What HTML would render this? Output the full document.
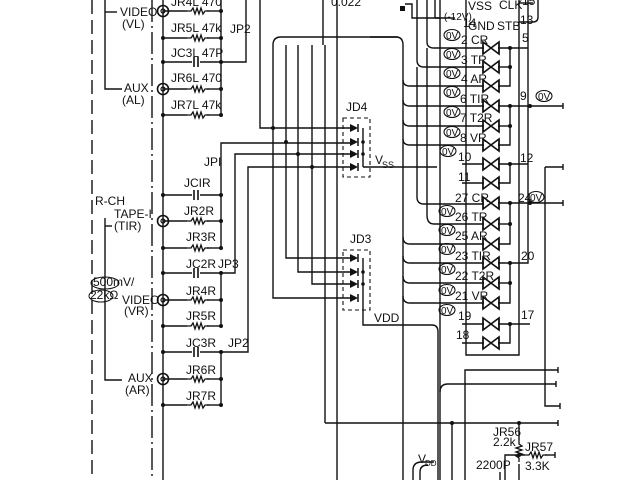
<!DOCTYPE html>
<html><head><meta charset="utf-8"><style>
html,body{margin:0;padding:0;background:#fff;}
svg{display:block;}
text{font-family:"Liberation Sans Narrow","Liberation Sans",sans-serif;font-size:12px;fill:#111;}
</style></head><body>
<svg width="640" height="480" viewBox="0 0 640 480" xmlns="http://www.w3.org/2000/svg">
<defs>
<path id="res" d="M0,0 h4 l2,-3 l2,6 l2,-6 l2,6 l2,-6 l2,6 l2,-3 h4" fill="none" stroke="#111" stroke-width="1.3"/>
<g id="sw"><path d="M-8,-6 L8,6 L8,-6 L-8,6 Z" fill="none" stroke="#111" stroke-width="1.6"/><line x1="-8" y1="-6" x2="-8" y2="6" stroke="#111" stroke-width="1.4"/><line x1="8" y1="-6" x2="8" y2="6" stroke="#111" stroke-width="1.4"/></g>
<g id="jack"><circle cx="0" cy="0" r="5.5" fill="none" stroke="#111" stroke-width="1.6"/><circle cx="0" cy="0" r="2" fill="none" stroke="#111" stroke-width="1.2"/></g>
<g id="cap"><line x1="-2" y1="-5" x2="-2" y2="5" stroke="#111" stroke-width="1.6"/><line x1="2" y1="-5" x2="2" y2="5" stroke="#111" stroke-width="1.6"/></g>
<g id="dio"><path d="M-5,-4 L-5,4 L3,0 Z" fill="#111"/><line x1="3" y1="-4" x2="3" y2="4" stroke="#111" stroke-width="1.5"/></g>
<g id="ov"><ellipse cx="0" cy="0" rx="8" ry="5.5" fill="none" stroke="#111" stroke-width="1.1"/><text x="-6" y="4" style="font-size:10px">0V</text></g>
</defs>
<g stroke="#111" stroke-width="1.4" fill="none">
<line x1="92" y1="0" x2="92" y2="480" stroke-dasharray="14,6"/>
<line x1="152" y1="0" x2="152" y2="480" stroke-dasharray="22,4,2,4"/>
<path d="M105,0 V89 H122"/><path d="M105,12 H117"/>
<path d="M105,218 V380 H122"/><path d="M105,226 H112"/>
<line x1="163" y1="0" x2="163" y2="480"/>
<line x1="221" y1="0" x2="221" y2="115"/>
<line x1="221" y1="195" x2="221" y2="248"/>
<line x1="221" y1="273" x2="221" y2="326"/>
<line x1="221" y1="352" x2="221" y2="405"/>
<path d="M163,11 H187"/><path d="M207,11 H221"/>
<path d="M163,38 H187"/><path d="M207,38 H221"/>
<path d="M163,62 H192"/><path d="M200,62 H246 V0"/>
<path d="M163,89 H187"/><path d="M207,89 H221"/>
<path d="M163,115 H187"/><path d="M207,115 H221"/>
<path d="M163,195 H192"/><path d="M200,195 H221 V143 H280"/>
<path d="M163,221 H187"/><path d="M207,221 H221"/>
<path d="M163,248 H187"/><path d="M207,248 H221"/>
<path d="M163,273 H192"/><path d="M200,273 H235 V154 H280"/>
<path d="M163,300 H187"/><path d="M207,300 H221"/>
<path d="M163,326 H187"/><path d="M207,326 H221"/>
<path d="M163,352 H192"/><path d="M200,352 H248 V167 H280"/>
<path d="M163,379 H187"/><path d="M207,379 H221"/>
<path d="M163,405 H187"/><path d="M207,405 H221"/>
<path d="M260,0 V128 H352"/>
<path d="M280,143 H352"/><path d="M280,154 H352"/><path d="M280,167 H352"/>
<path d="M273,128 V45 Q273,37 281,37 H396 Q403,37 403,45 V480"/>
<path d="M286,142 V45"/><path d="M298,154 V45"/><path d="M312,167 V45"/>
<path d="M286,142 V258 H352"/><path d="M298,154 V272 H352"/><path d="M312,167 V284 H352"/>
<path d="M273,128 V298 H352"/>
<line x1="323" y1="0" x2="323" y2="45"/>
<line x1="337" y1="0" x2="337" y2="480"/>
<line x1="325" y1="45" x2="325" y2="423"/>
<rect x="343" y="118" width="27" height="59" stroke-dasharray="4,3" stroke-width="1.1"/>
<rect x="343" y="250" width="27" height="60" stroke-dasharray="4,3" stroke-width="1.1"/>
<path d="M363,128 V167"/><path d="M363,167 H437"/>
<path d="M363,258 V325 H432 Q438,325 438,332 V480"/>
<path d="M403,80 Q403,86 410,86 H484"/>
<path d="M403,100 Q403,106 410,106 H484"/>
<path d="M403,120 Q403,126 410,126 H484"/>
<path d="M403,139 Q403,145 410,145 H484"/>
<path d="M403,237 Q403,244 410,244 H484"/>
<path d="M403,256 Q403,263 410,263 H484"/>
<path d="M403,276 Q403,283 410,283 H484"/>
<path d="M403,296 Q403,303 410,303 H484"/>
<path d="M417,0 V60 Q417,67 424,67 H484"/>
<path d="M427,0 V42 Q427,48 434,48 H484"/>
<path d="M427,48 V215 Q427,224 434,224 H484"/>
<path d="M417,67 V197 Q417,204 424,204 H484"/>
<path d="M435,18 H455"/><path d="M435,18 V0"/>
<path d="M370,37 H398"/>
<path d="M405,4 H412 V18 H440"/>
<line x1="440" y1="0" x2="440" y2="480"/>
<path d="M466,0 V355 H519 V0"/>
<path d="M519,22 H533 Q538,22 538,17 V0"/>
<path d="M519,3 H533"/>
<path d="M462,164 H484"/><path d="M462,183 H484"/>
<path d="M462,324 H484"/><path d="M462,343 H484"/>
<path d="M498,48 H510 V86 H498"/><path d="M498,67 H510"/><path d="M510,48 H528"/>
<path d="M498,106 H510 V145 H498"/><path d="M498,126 H510"/><path d="M510,106 H563"/>
<path d="M498,164 H510 V183 H498"/><path d="M510,164 H528"/>
<path d="M498,203 H510 V244 H498"/><path d="M498,224 H510"/><path d="M510,203 H563"/>
<path d="M498,263 H510 V303 H498"/><path d="M498,283 H510"/><path d="M510,263 H528 V0"/>
<path d="M498,324 H510 V343 H498"/><path d="M510,324 H530"/>
<path d="M545,167 H563"/><path d="M545,167 V406 H560"/>
<path d="M465,480 V370 H558"/>
<path d="M440,392 Q440,384 448,384 H556"/>
<path d="M325,423 H558"/>
<line x1="452" y1="423" x2="452" y2="480"/>
<line x1="519" y1="423" x2="519" y2="440"/><use href="#res" x="0" y="0" transform="translate(519,440) rotate(90)"/><line x1="519" y1="464" x2="519" y2="480"/>
<path d="M505,480 V455 H525"/><use href="#res" x="525" y="455"/><path d="M545,455 H555"/>
<path d="M413,480 V470 Q413,462 422,462 H434"/><path d="M420,480 V472 Q420,465 428,465"/>
<path d="M500,480 V472"/>
<path d="M555,452 V458"/><path d="M558,420 V426"/><path d="M556,381 V387"/><path d="M558,367 V373"/><path d="M560,403 V409"/><path d="M563,103 V109"/><path d="M563,200 V206"/><path d="M563,164 V170"/>
</g>
<g fill="#111">
<circle cx="163" cy="38" r="2"/><circle cx="163" cy="62" r="2"/><circle cx="163" cy="115" r="2"/>
<circle cx="221" cy="11" r="2"/><circle cx="221" cy="38" r="2"/><circle cx="221" cy="62" r="2"/><circle cx="221" cy="89" r="2"/><circle cx="221" cy="115" r="2"/>
<circle cx="163" cy="195" r="2"/><circle cx="163" cy="248" r="2"/><circle cx="163" cy="273" r="2"/><circle cx="163" cy="326" r="2"/><circle cx="163" cy="352" r="2"/><circle cx="163" cy="405" r="2"/>
<circle cx="221" cy="195" r="2"/><circle cx="221" cy="221" r="2"/><circle cx="221" cy="248" r="2"/><circle cx="221" cy="273" r="2"/><circle cx="221" cy="300" r="2"/><circle cx="221" cy="326" r="2"/><circle cx="221" cy="352" r="2"/><circle cx="221" cy="379" r="2"/><circle cx="221" cy="405" r="2"/>
<circle cx="273" cy="128" r="2"/><circle cx="286" cy="142" r="2"/><circle cx="298" cy="154" r="2"/><circle cx="312" cy="167" r="2"/>
<circle cx="363" cy="142" r="1.8"/><circle cx="363" cy="154" r="1.8"/><circle cx="363" cy="272" r="1.8"/><circle cx="363" cy="284" r="1.8"/>
<circle cx="510" cy="48" r="2"/><circle cx="510" cy="67" r="2"/><circle cx="510" cy="106" r="2"/><circle cx="510" cy="126" r="2"/><circle cx="510" cy="164" r="2"/><circle cx="510" cy="203" r="2"/><circle cx="510" cy="224" r="2"/><circle cx="510" cy="263" r="2"/><circle cx="510" cy="283" r="2"/><circle cx="510" cy="324" r="2"/>
<circle cx="530" cy="106" r="2"/><circle cx="530" cy="203" r="2"/>
<circle cx="452" cy="423" r="2"/><circle cx="519" cy="423" r="2"/><circle cx="519" cy="455" r="2"/>
<rect x="400" y="6" width="5" height="5"/>
</g>
<use href="#res" x="187" y="11"/><use href="#res" x="187" y="38"/><use href="#res" x="187" y="89"/><use href="#res" x="187" y="115"/>
<use href="#res" x="187" y="221"/><use href="#res" x="187" y="248"/><use href="#res" x="187" y="300"/><use href="#res" x="187" y="326"/><use href="#res" x="187" y="379"/><use href="#res" x="187" y="405"/>
<use href="#cap" x="196" y="62"/><use href="#cap" x="196" y="195"/><use href="#cap" x="196" y="273"/><use href="#cap" x="196" y="352"/>
<use href="#jack" x="163" y="11"/><use href="#jack" x="163" y="89"/><use href="#jack" x="163" y="221"/><use href="#jack" x="163" y="300"/><use href="#jack" x="163" y="379"/>
<use href="#dio" x="355" y="128"/><use href="#dio" x="355" y="142"/><use href="#dio" x="355" y="154"/><use href="#dio" x="355" y="167"/>
<use href="#dio" x="355" y="258"/><use href="#dio" x="355" y="272"/><use href="#dio" x="355" y="284"/><use href="#dio" x="355" y="298"/>
<use href="#sw" x="491" y="48"/><use href="#sw" x="491" y="67"/><use href="#sw" x="491" y="86"/><use href="#sw" x="491" y="106"/><use href="#sw" x="491" y="126"/><use href="#sw" x="491" y="145"/><use href="#sw" x="491" y="164"/><use href="#sw" x="491" y="183"/>
<use href="#sw" x="491" y="203"/><use href="#sw" x="491" y="224"/><use href="#sw" x="491" y="244"/><use href="#sw" x="491" y="263"/><use href="#sw" x="491" y="283"/><use href="#sw" x="491" y="303"/><use href="#sw" x="491" y="324"/><use href="#sw" x="491" y="343"/>
<use href="#ov" x="452" y="35"/><use href="#ov" x="452" y="54"/><use href="#ov" x="452" y="73"/><use href="#ov" x="452" y="92"/><use href="#ov" x="452" y="112"/><use href="#ov" x="452" y="132"/><use href="#ov" x="448" y="151"/>
<use href="#ov" x="447" y="211"/><use href="#ov" x="447" y="230"/><use href="#ov" x="447" y="249"/><use href="#ov" x="447" y="269"/><use href="#ov" x="447" y="290"/><use href="#ov" x="447" y="310"/>
<use href="#ov" x="544" y="96"/><use href="#ov" x="536" y="197"/>
<text x="120" y="16">VIDEO</text><text x="122" y="28">(VL)</text>
<text x="124" y="92">AUX</text><text x="122" y="104">(AL)</text>
<text x="171" y="6">JR4L  470</text><text x="171" y="32">JR5L  47k</text><text x="171" y="57">JC3L   47P</text><text x="230" y="33">JP2</text>
<text x="171" y="82">JR6L  470</text><text x="171" y="109">JR7L  47k</text>
<text x="204" y="166">JPI</text>
<text x="95" y="205">R-CH</text>
<text x="114" y="218">TAPE-I</text><text x="114" y="230">(TIR)</text>
<text x="184" y="187">JCIR</text><text x="184" y="215">JR2R</text><text x="186" y="241">JR3R</text>
<text x="186" y="268">JC2R</text><text x="218" y="268">JP3</text>
<text x="186" y="295">JR4R</text><text x="186" y="320">JR5R</text>
<text x="186" y="347">JC3R</text><text x="228" y="347">JP2</text>
<text x="186" y="374">JR6R</text><text x="186" y="400">JR7R</text>
<text x="93" y="286">500mV/</text><text x="90" y="299">22kΩ</text>
<ellipse cx="105" cy="283" rx="14" ry="6" fill="none" stroke="#111"/><ellipse cx="101" cy="296" rx="12" ry="6" fill="none" stroke="#111"/>
<text x="122" y="304">VIDEO</text><text x="124" y="315">(VR)</text>
<text x="128" y="382">AUX</text><text x="125" y="394">(AR)</text>
<text x="346" y="111">JD4</text><text x="375" y="164">V</text><text x="382" y="168" style="font-size:9px">SS</text>
<text x="350" y="243">JD3</text><text x="374" y="322">VDD</text>
<text x="331" y="6">0.022</text>
<text x="468" y="10">VSS</text><text x="499" y="9">CLK</text><text x="522" y="5">15</text>
<text x="444" y="20" style="font-size:10px">(-12V)</text><text x="463" y="27">14</text>
<text x="468" y="30">GND</text><text x="497" y="30">STB</text><text x="520" y="24">13</text>
<text x="461" y="44">2 CR</text><text x="461" y="64">3 TR</text><text x="461" y="83">4 AR</text><text x="460" y="103">6 TIR</text><text x="460" y="122">7 T2R</text><text x="460" y="142">8 VR</text>
<text x="458" y="161">10</text><text x="458" y="181">11</text>
<text x="455" y="202">27 CR</text><text x="455" y="221">26 TR</text><text x="455" y="240">25 AR</text><text x="455" y="260">23 TIR</text><text x="455" y="280">22 T2R</text><text x="455" y="300">21 VR</text>
<text x="458" y="320">19</text><text x="456" y="339">18</text>
<text x="522" y="42">5</text><text x="520" y="100">9</text><text x="520" y="162">12</text><text x="518" y="202">24</text><text x="521" y="260">20</text><text x="521" y="319">17</text>
<text x="493" y="436">JR56</text><text x="493" y="446">2.2k</text><text x="525" y="451">JR57</text><text x="525" y="470">3.3K</text>
<text x="476" y="469">2200P</text><text x="418" y="463">V</text><text x="425" y="466" style="font-size:8px">DD</text>
</svg>
</body></html>
